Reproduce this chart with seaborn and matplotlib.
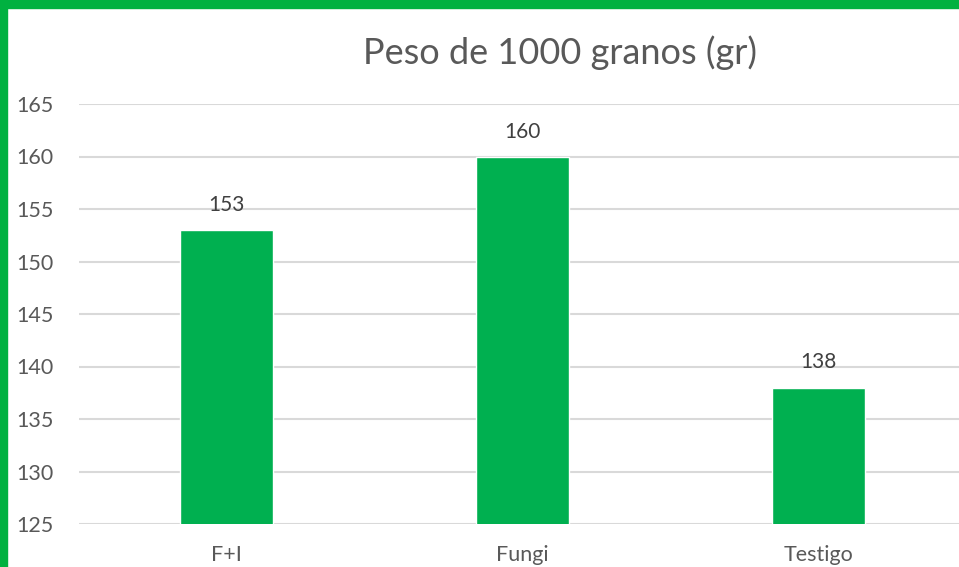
import matplotlib
matplotlib.use('Agg')
import matplotlib.pyplot as plt
import seaborn as sns
from matplotlib.patches import Rectangle

categories = ['F+I', 'Fungi', 'Testigo']
values = [153, 160, 138]
y_ticks = [125, 130, 135, 140, 145, 150, 155, 160, 165]

W, H = 959, 567
sns.set_style('white')
plt.rcParams['font.family'] = ['Lato', 'DejaVu Sans']

fig = plt.figure(figsize=(W / 100, H / 100), dpi=100)
ax = fig.add_axes([79 / W, 43 / H, 880 / W, 420 / H])

sns.barplot(x=categories, y=values, color='#00B050', width=0.315, saturation=1, ax=ax, zorder=3)

ax.set_ylim(125, 165)
ax.set_xlim(-0.5, 2.476)
ax.set_yticks(y_ticks)
ax.yaxis.grid(True, color='#D9D9D9', linewidth=1.5, zorder=0)
ax.set_axisbelow(True)
for s in ax.spines.values():
    s.set_visible(False)
ax.tick_params(axis='both', length=0, labelsize=15.5, colors='#595959')
ax.tick_params(axis='y', pad=18.5)
ax.tick_params(axis='x', pad=15)
ax.set_xlabel('')
ax.set_ylabel('')

for i, v in enumerate(values):
    ax.annotate(str(v), (i, v), xytext=(0, 18), textcoords='offset points',
                ha='center', va='center', fontsize=15, color='#404040')

fig.text(560 / W, 1 - 53 / H, 'Peso de 1000 granos (gr)', ha='center', va='center',
         fontsize=26, color='#595959')

# green frame around the screenshot
fig.patches.append(Rectangle((0, 1 - 8 / H), 1, 8 / H, transform=fig.transFigure,
                             color='#00B140', zorder=10))
fig.patches.append(Rectangle((0, 0), 7 / W, 1, transform=fig.transFigure,
                             color='#00B140', zorder=10))

fig.savefig('out.png', dpi=100)
